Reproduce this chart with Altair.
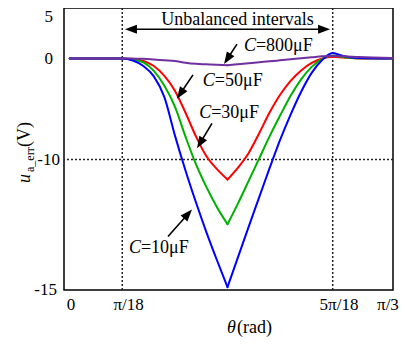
import math
import altair as alt
import pandas as pd

# ---------------- data ----------------
theta_deg = [0, 5, 10, 12, 14, 16, 18, 20, 22, 24, 26, 28, 30, 32, 34, 36, 38,
             40, 42, 44, 46, 48, 50, 52, 55, 61.4]
u_10uF = [0, 0, 0, -0.20, -0.74, -1.77, -3.83, -7.61, -10.41, -11.64, -12.79, -13.86,
          -14.89, -13.74, -12.59, -11.46, -10.33, -8.05, -5.55, -3.29, -1.42, -0.15,
          0.54, 0.25, 0.05, 0]
u_30uF = [0, 0, 0, -0.10, -0.39, -1.23, -2.70, -4.76, -7.71, -10.18, -11.06, -11.83,
          -12.48, -11.68, -10.83, -9.92, -7.71, -5.65, -3.68, -2.06, -0.83, -0.05,
          0.29, 0.15, 0.02, 0]
u_50uF = [0, 0, 0, -0.05, -0.25, -0.74, -1.72, -3.19, -5.35, -7.71, -9.68, -10.37,
          -10.77, -10.31, -9.38, -7.42, -5.35, -3.59, -2.21, -1.18, -0.44, 0.0,
          0.17, 0.10, 0.01, 0]
u_800uF = [0, 0, 0, -0.01, -0.03, -0.10, -0.18, -0.25, -0.42, -0.53, -0.58, -0.63,
           -0.67, -0.57, -0.47, -0.37, -0.28, -0.18, -0.08, 0.02, 0.12, 0.22,
           0.25, 0.22, 0.15, 0.05]
series_names = ["C=50μF", "C=30μF", "C=10μF", "C=800μF"]
series_colors = ["#ff0000", "#00b000", "#0000ff", "#7030a0"]
v_min_deg = 30  # pi/6, where the curves have their cusp

x_tick_values = [0, 10, 50, 60]
x_tick_labels = ["0", "π/18", "5π/18", "π/3"]
y_tick_values = [5, 0, -10, -15]
y_tick_labels = ["5", "0", "-10", "-15"]
interval_bounds = [10, 50]
grid_y = [-10]

label_text = ["=800μF", "=50μF", "=30μF", "=10μF"]
label_x = [35.4, 27.6, 26.9, 13.55]
label_y = [0.74, -2.7, -5.85, -13.6]
arrow_tail_x = [31.8, 23.44, 27.05, 18.69]
arrow_tail_y = [1.42, -1.62, -6.43, -12.95]
arrow_head_x = [29.35, 20.4, 24.2, 23.25]
arrow_head_y = [-0.54, -3.98, -8.89, -11.92]
interval_arrow_x = [10.5, 49.5]
interval_arrow_y = 2.9
interval_text = "Unbalanced intervals"

# ---------------- scales ----------------
W, H = 329, 282
X_DOM = [-1.08, 61.46]
Y_DOM = [-15, -10, 5]
Y_RNG = [H, 151.5, 0]
xs = alt.Scale(domain=X_DOM, nice=False, zero=False)
ys = alt.Scale(domain=Y_DOM, range=Y_RNG, nice=False, zero=False)


def px_x(d):
    return W * (d - X_DOM[0]) / (X_DOM[1] - X_DOM[0])


def px_y(v):
    if v >= -10:
        return Y_RNG[1] * (5 - v) / 15
    return Y_RNG[1] + (Y_RNG[0] - Y_RNG[1]) * (-10 - v) / 5


FONT = "Liberation Serif"

# ---------------- curves ----------------
rows = []
for name, vals in zip(series_names, [u_50uF, u_30uF, u_10uF, u_800uF]):
    for t, v in zip(theta_deg, vals):
        if t <= v_min_deg:
            rows.append({"theta": t, "u": v, "series": name, "seg": name + "L"})
        if t >= v_min_deg:
            rows.append({"theta": t, "u": v, "series": name, "seg": name + "R"})
curves = pd.DataFrame(rows)

lines = alt.Chart(curves).mark_line(interpolate="monotone", strokeWidth=2, strokeCap="round").encode(
    x=alt.X("theta:Q", scale=xs, axis=None),
    y=alt.Y("u:Q", scale=ys, axis=None),
    color=alt.Color("series:N", scale=alt.Scale(domain=series_names, range=series_colors), legend=None),
    detail="seg:N",
    order=alt.Order("theta:Q"),
)

# ---------------- grid ----------------
vgrid = alt.Chart(pd.DataFrame({"x": interval_bounds})).mark_rule(
    color="#222", strokeWidth=1.5, strokeDash=[2, 2]).encode(x=alt.X("x:Q", scale=xs, axis=None))
hgrid = alt.Chart(pd.DataFrame({"y": grid_y})).mark_rule(
    color="#222", strokeWidth=1.5, strokeDash=[2, 2]).encode(y=alt.Y("y:Q", scale=ys, axis=None))

# ---------------- arrows ----------------
HEAD = 144  # symbol size -> 12px long head
shaft_rows, head_rows = [], []


def add_arrow(tx, ty, hx, hy):
    dx = px_x(hx) - px_x(tx)
    dy = px_y(hy) - px_y(ty)
    L = math.hypot(dx, dy)
    f = 8.0 / L
    ex = hx + (tx - hx) * f
    ey = hy + (ty - hy) * f
    shaft_rows.append({"x": tx, "y": ty, "x2": ex, "y2": ey})
    ang = math.degrees(math.atan2(dx, -dy)) % 360
    head_rows.append({"x": hx, "y": hy, "ang": ang})


for tx, ty, hx, hy in zip(arrow_tail_x, arrow_tail_y, arrow_head_x, arrow_head_y):
    add_arrow(tx, ty, hx, hy)
mid = (interval_arrow_x[0] + interval_arrow_x[1]) / 2
add_arrow(mid, interval_arrow_y, interval_arrow_x[0], interval_arrow_y)
add_arrow(mid, interval_arrow_y, interval_arrow_x[1], interval_arrow_y)

shafts = alt.Chart(pd.DataFrame(shaft_rows)).mark_rule(color="black", strokeWidth=1.6).encode(
    x=alt.X("x:Q", scale=xs, axis=None), y=alt.Y("y:Q", scale=ys, axis=None),
    x2="x2:Q", y2="y2:Q")
heads = alt.Chart(pd.DataFrame(head_rows)).mark_point(
    shape="M0,0L0.75,2L-0.75,2Z", filled=True, size=HEAD, color="black", opacity=1, strokeWidth=0
).encode(x=alt.X("x:Q", scale=xs, axis=None), y=alt.Y("y:Q", scale=ys, axis=None),
         angle=alt.Angle("ang:Q", scale=None))

# ---------------- annotation texts ----------------
lab = pd.DataFrame({"t": label_text, "x": label_x, "y": label_y})
c_italic = alt.Chart(lab).mark_text(text="C", align="right", baseline="alphabetic", font=FONT,
                                    fontSize=18, fontStyle="italic", color="black").encode(
    x=alt.X("x:Q", scale=xs, axis=None), y=alt.Y("y:Q", scale=ys, axis=None))
c_rest = alt.Chart(lab).mark_text(align="left", baseline="alphabetic", font=FONT,
                                  fontSize=18, color="black").encode(
    x=alt.X("x:Q", scale=xs, axis=None), y=alt.Y("y:Q", scale=ys, axis=None), text="t:N")
interval_lbl = alt.Chart(pd.DataFrame({"t": [interval_text], "x": [31.9], "y": [3.35]})).mark_text(
    align="center", baseline="alphabetic", font=FONT, fontSize=18, color="black").encode(
    x=alt.X("x:Q", scale=xs, axis=None), y=alt.Y("y:Q", scale=ys, axis=None), text="t:N")

# ---------------- tick labels ----------------
xt = alt.Chart(pd.DataFrame({"v": x_tick_values, "t": x_tick_labels})).transform_calculate(
    pos="datum.v + (datum.v == 0 ? 0.25 : (datum.v == 60 ? 0.5 : 1.2))"
).mark_text(align="center", baseline="middle", font=FONT, fontSize=17, color="black").encode(
    x=alt.X("pos:Q", scale=xs, axis=None), y=alt.value(H + 15), text="t:N")
ytick_df = pd.DataFrame({"v": y_tick_values, "t": y_tick_labels})
yt = alt.Chart(ytick_df).transform_filter("datum.v < 5").transform_calculate(
    px="datum.v >= 0 ? -11 : (datum.v == -10 ? -4 : -7)"
).mark_text(align="right", baseline="middle", font=FONT, fontSize=17, color="black").encode(
    x=alt.X("px:Q", scale=None), y=alt.Y("v:Q", scale=ys, axis=None), text="t:N")
yt_top = alt.Chart(ytick_df).transform_filter("datum.v == 5").mark_text(
    align="right", baseline="top", font=FONT, fontSize=17, color="black", dy=1).encode(
    x=alt.value(-11), y=alt.value(0), text="t:N")

# ---------------- axis titles ----------------
def txt(s, x, y, size=18, italic=False, angle=0):
    kw = dict(align="left", baseline="alphabetic", font=FONT, fontSize=size, color="black",
              text=s, angle=angle)
    if italic:
        kw["fontStyle"] = "italic"
    return alt.Chart(pd.DataFrame({"a": [0]})).mark_text(**kw).encode(
        x=alt.value(x), y=alt.value(y))

ytitle = [txt("u", -34, 175, italic=True, angle=270),
          txt("a_err", -30, 164, size=12, angle=270),
          txt("(V)", -34, 139, angle=270)]
xtitle = [txt("θ", 163, 325, italic=True), txt("(rad)", 173, 325)]

chart = alt.layer(
    vgrid, hgrid, lines, shafts, heads, c_italic, c_rest, interval_lbl, xt, yt, yt_top,
    *ytitle, *xtitle
).properties(
    width=W, height=H, autosize="none",
    padding={"left": 56, "top": 0, "right": 9, "bottom": 48},
    background="white",
).configure(font=FONT).configure_text(font=FONT).configure_view(stroke="black", strokeWidth=1.5)

chart.save("out.html", embed_options={"renderer": "svg", "actions": False})
